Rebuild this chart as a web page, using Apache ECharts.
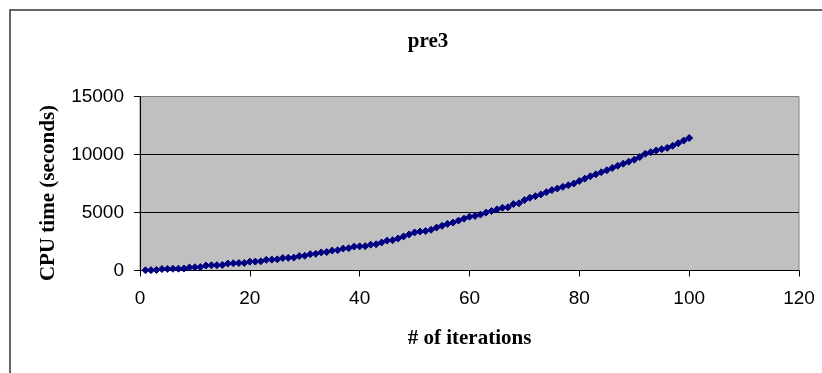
<!DOCTYPE html>
<html>
<head>
<meta charset="utf-8">
<title>pre3</title>
<script src="https://cdn.jsdelivr.net/npm/echarts@6/dist/echarts.min.js"></script>
<style>
  html, body { margin: 0; padding: 0; background: #ffffff; }
  #chart { width: 822px; height: 373px; }
</style>
</head>
<body>
<div id="chart"></div>
<script>
// Iteration number for each measurement
const iterations = [
  1, 2, 3, 4, 5, 6, 7, 8, 9, 10,
  11, 12, 13, 14, 15, 16, 17, 18, 19, 20,
  21, 22, 23, 24, 25, 26, 27, 28, 29, 30,
  31, 32, 33, 34, 35, 36, 37, 38, 39, 40,
  41, 42, 43, 44, 45, 46, 47, 48, 49, 50,
  51, 52, 53, 54, 55, 56, 57, 58, 59, 60,
  61, 62, 63, 64, 65, 66, 67, 68, 69, 70,
  71, 72, 73, 74, 75, 76, 77, 78, 79, 80,
  81, 82, 83, 84, 85, 86, 87, 88, 89, 90,
  91, 92, 93, 94, 95, 96, 97, 98, 99, 100
];

// Cumulative CPU time in seconds after each iteration
const cpuSeconds = [
  15, 30, 50, 120, 140, 150, 160, 170, 260, 280,
  300, 430, 450, 460, 480, 600, 620, 640, 650, 760,
  770, 790, 920, 940, 960, 1070, 1090, 1110, 1240, 1270,
  1410, 1440, 1560, 1590, 1720, 1750, 1890, 1920, 2060, 2080,
  2100, 2230, 2260, 2420, 2580, 2610, 2760, 2940, 3110, 3280,
  3360, 3400, 3510, 3700, 3850, 4020, 4130, 4300, 4470, 4640,
  4700, 4820, 4990, 5130, 5270, 5410, 5450, 5730, 5790, 6070,
  6270, 6410, 6560, 6750, 6930, 7070, 7210, 7350, 7500, 7720,
  7920, 8120, 8290, 8470, 8640, 8840, 9030, 9210, 9380, 9550,
  9780, 10060, 10200, 10350, 10460, 10570, 10750, 10970, 11200, 11420
];

const xTicks = { min: 0, max: 120, step: 20 };
const yTicks = { min: 0, max: 15000, step: 5000 };

const points = iterations.map((it, i) => [it, cpuSeconds[i]]);

const chart = echarts.init(document.getElementById('chart'), null, { renderer: 'canvas' });

const sans = '"Liberation Sans", Arial, sans-serif';
const serif = '"Liberation Serif", "Times New Roman", serif';

chart.setOption({
  animation: false,
  backgroundColor: '#ffffff',
  title: {
    text: 'pre3',
    left: 423,
    top: 26,
    textAlign: 'center',
    textStyle: { fontFamily: serif, fontWeight: 'bold', fontSize: 21, color: '#000000' }
  },
  grid: {
    left: 140,
    right: 23,
    top: 96.5,
    bottom: 102.5,
    show: true,
    backgroundColor: '#c0c0c0',
    borderColor: '#808080',
    borderWidth: 1
  },
  xAxis: {
    type: 'value',
    min: xTicks.min,
    max: xTicks.max,
    interval: xTicks.step,
    name: '# of iterations',
    nameLocation: 'middle',
    nameGap: 58,
    nameTextStyle: { fontFamily: serif, fontWeight: 'bold', fontSize: 21, color: '#000000' },
    axisLine: { show: true, onZero: false, lineStyle: { color: '#000000', width: 1 } },
    axisTick: { show: true, inside: false, length: 6, lineStyle: { color: '#000000' } },
    axisLabel: { margin: 19, fontFamily: sans, fontSize: 19, color: '#000000' },
    splitLine: { show: false }
  },
  yAxis: {
    type: 'value',
    min: yTicks.min,
    max: yTicks.max,
    interval: yTicks.step,
    axisLine: { show: true, lineStyle: { color: '#000000', width: 1 } },
    axisTick: { show: true, inside: false, length: 6, lineStyle: { color: '#000000' } },
    axisLabel: {
      margin: 16,
      fontFamily: sans,
      fontSize: 19,
      color: '#000000',
      formatter: (v) => String(v)
    },
    splitLine: {
      show: true,
      lineStyle: { color: ['#000000', '#000000', '#000000', '#808080'], width: 1 }
    }
  },
  graphic: [
    {
      type: 'rect',
      silent: true,
      z: 100,
      shape: { x: 10, y: 10, width: 900, height: 500 },
      style: { fill: 'none', stroke: '#333333', lineWidth: 1.5 }
    },
    {
      type: 'text',
      silent: true,
      x: 48.5,
      y: 193,
      rotation: Math.PI / 2,
      style: {
        text: 'CPU time (seconds)',
        fontFamily: serif,
        fontWeight: 'bold',
        fontSize: 21,
        fill: '#000000',
        textAlign: 'center',
        textVerticalAlign: 'middle'
      }
    }
  ],
  series: [
    {
      type: 'line',
      data: points,
      symbol: 'diamond',
      symbolSize: 7,
      showAllSymbol: true,
      lineStyle: { color: '#000080', width: 1.5 },
      itemStyle: { color: '#000080', borderColor: '#000080' }
    }
  ]
});
</script>
</body>
</html>
